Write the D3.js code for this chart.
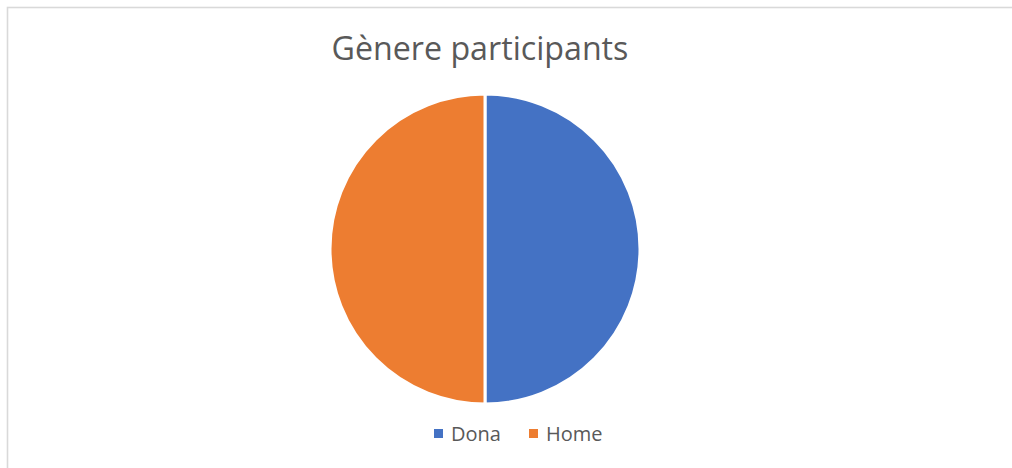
<!DOCTYPE html>
<html><head><meta charset="utf-8">
<script src="https://cdn.jsdelivr.net/npm/d3@7"></script>
<style>html,body{margin:0;padding:0;background:#fff;}svg{display:block;}</style>
</head><body>
<svg id="c" width="1012" height="468"></svg>
<script>
const categories = ["Dona", "Home"];
const values = [50, 50];
const colors = ["#4472C4", "#ED7D31"];
const title = "Gènere participants";

const svg = d3.select("#c");
const W = 1012, H = 468;
svg.append("rect").attr("x", 7.5).attr("y", 7.5).attr("width", W + 10).attr("height", H + 10)
  .attr("fill", "#fff").attr("stroke", "#d9d9d9").attr("stroke-width", 1.6);

const font = "'Open Sans', 'Noto Sans', sans-serif";
const t = svg.append("text").attr("x", 480).attr("y", 60).attr("text-anchor", "middle")
  .attr("fill", "#595959").style("font-family", font).style("font-size", "30px").text(title);
const tw = t.node().getComputedTextLength();
t.style("font-size", (30 * 297 / tw) + "px");

const cx = 485, cy = 249, r = 155;
const pie = d3.pie().sort(null).startAngle(0).endAngle(2 * Math.PI)(values);
const arc = d3.arc().innerRadius(0).outerRadius(r);
const g = svg.append("g").attr("transform", `translate(${cx},${cy})`);
g.selectAll("path").data(pie).join("path")
  .attr("d", arc).attr("fill", (d, i) => colors[i])
  .attr("stroke", "#fff").attr("stroke-width", 3);

const x = d3.scaleOrdinal().domain(categories).range([434, 529]);
const lg = svg.append("g");
categories.forEach((c, i) => {
  lg.append("rect").attr("x", x(c)).attr("y", 429).attr("width", 9).attr("height", 9).attr("fill", colors[i]);
  lg.append("text").attr("x", x(c) + 17).attr("y", 441).attr("fill", "#595959")
    .style("font-family", font).style("font-size", "20px").text(c);
});
</script>
</body></html>
